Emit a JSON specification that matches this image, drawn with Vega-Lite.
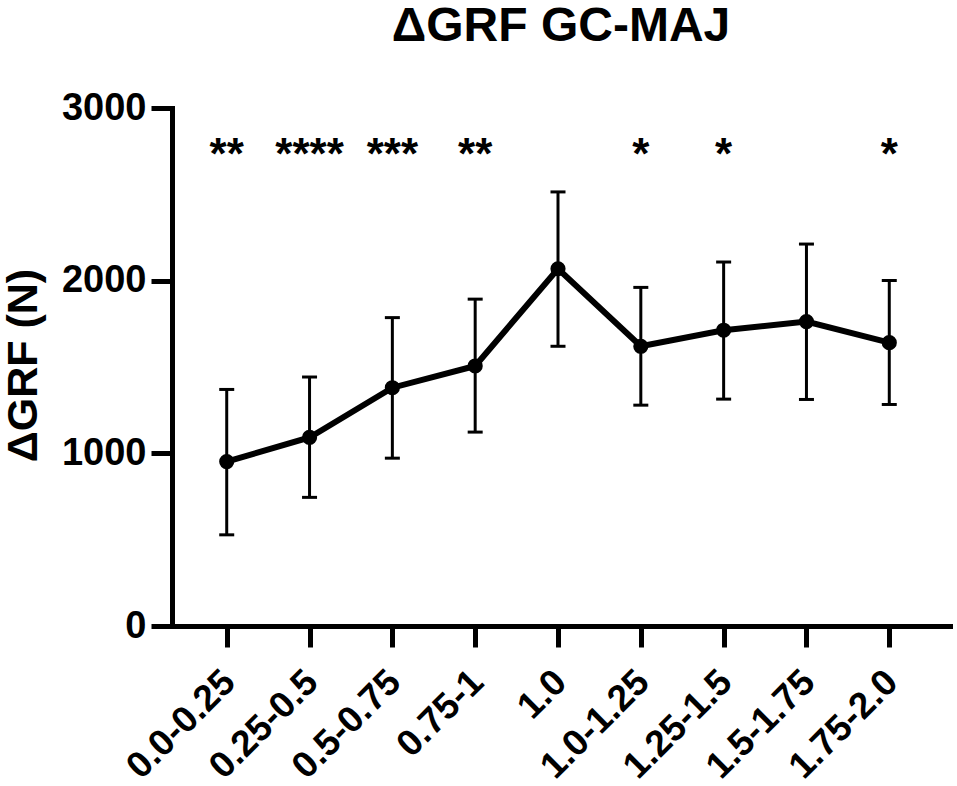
{
  "$schema": "https://vega.github.io/schema/vega-lite/v6.json",
  "autosize": {"type": "none"},
  "padding": {"left": 172, "top": 108, "right": 7, "bottom": 160},
  "width": 778,
  "height": 518,
  "background": "white",
  "title": {"text": "ΔGRF GC-MAJ", "fontSize": 48, "font": "Liberation Sans", "fontWeight": "bold", "color": "black", "anchor": "middle", "offset": 38},
  "config": {
    "view": {"stroke": null},
    "axis": {
      "domainColor": "black", "domainWidth": 5, "domainCap": "square",
      "tickColor": "black", "tickWidth": 5, "tickSize": 21,
      "labelColor": "black", "labelFont": "Liberation Sans", "labelFontWeight": "bold",
      "titleColor": "black", "titleFont": "Liberation Sans", "titleFontWeight": "bold",
      "grid": false
    }
  },
  "data": {"values": [
    {"bin": "0.0-0.25", "mean": 952, "low": 528, "high": 1370, "sig": "**"},
    {"bin": "0.25-0.5", "mean": 1092, "low": 745, "high": 1442, "sig": "****"},
    {"bin": "0.5-0.75", "mean": 1380, "low": 972, "high": 1786, "sig": "***"},
    {"bin": "0.75-1", "mean": 1506, "low": 1123, "high": 1893, "sig": "**"},
    {"bin": "1.0", "mean": 2069, "low": 1620, "high": 2514, "sig": ""},
    {"bin": "1.0-1.25", "mean": 1620, "low": 1279, "high": 1961, "sig": "*"},
    {"bin": "1.25-1.5", "mean": 1713, "low": 1314, "high": 2108, "sig": "*"},
    {"bin": "1.5-1.75", "mean": 1763, "low": 1312, "high": 2212, "sig": ""},
    {"bin": "1.75-2.0", "mean": 1641, "low": 1283, "high": 2001, "sig": "*"}
  ]},
  "encoding": {
    "x": {
      "field": "bin", "type": "nominal", "sort": null,
      "scale": {"type": "point", "padding": 0.697, "align": 0.474},
      "axis": {"title": null, "labelAngle": -45, "labelAlign": "right", "labelBaseline": "alphabetic", "labelPadding": 37, "labelOffset": 10, "labelFontSize": 37}
    }
  },
  "layer": [
    {
      "mark": {"type": "rule", "strokeWidth": 3, "color": "black"},
      "encoding": {
        "y": {"field": "low", "type": "quantitative", "scale": {"domain": [0, 3000], "nice": false},
          "axis": {"values": [0, 1000, 2000, 3000], "format": "d", "title": "ΔGRF (N)", "titleFontSize": 43, "titleX": -136, "titleY": 257, "titleAngle": -90, "titleAlign": "center", "titleBaseline": "alphabetic", "labelPadding": 5, "labelFontSize": 38}},
        "y2": {"field": "high"}
      }
    },
    {
      "mark": {"type": "tick", "thickness": 3, "size": 15, "color": "black", "opacity": 1},
      "encoding": {"y": {"field": "low", "type": "quantitative", "title": "ΔGRF (N)"}}
    },
    {
      "mark": {"type": "tick", "thickness": 3, "size": 15, "color": "black", "opacity": 1},
      "encoding": {"y": {"field": "high", "type": "quantitative", "title": "ΔGRF (N)"}}
    },
    {
      "mark": {"type": "line", "strokeWidth": 6, "color": "black"},
      "encoding": {"y": {"field": "mean", "type": "quantitative", "title": "ΔGRF (N)"}}
    },
    {
      "mark": {"type": "point", "filled": true, "size": 230, "color": "black", "opacity": 1},
      "encoding": {"y": {"field": "mean", "type": "quantitative", "title": "ΔGRF (N)"}}
    },
    {
      "mark": {"type": "text", "fontSize": 44, "font": "Liberation Sans", "fontWeight": "bold", "baseline": "alphabetic", "color": "black"},
      "encoding": {"y": {"datum": 2645, "type": "quantitative"}, "text": {"field": "sig"}}
    }
  ]
}
